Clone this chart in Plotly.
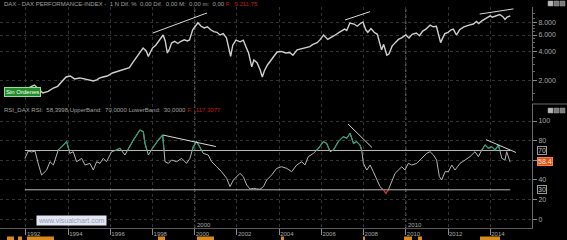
import plotly.graph_objects as go

# ---------------- data ----------------
price_year = [1991.00, 1991.20, 1991.45, 1991.70, 1991.95, 1992.20, 1992.40, 1992.60, 1992.80, 1993.05,
              1993.30, 1993.50, 1993.70, 1993.90, 1994.10, 1994.30, 1994.55, 1994.80, 1995.00, 1995.20,
              1995.35, 1995.50, 1995.65, 1995.85, 1996.10, 1996.35, 1996.60, 1996.90, 1997.10, 1997.25,
              1997.40, 1997.55, 1997.70, 1997.80, 1997.90, 1998.00, 1998.15, 1998.25, 1998.40, 1998.50,
              1998.60, 1998.70, 1998.80, 1998.90, 1999.05, 1999.20, 1999.30, 1999.50, 1999.65, 1999.75,
              1999.90, 2000.05, 2000.15, 2000.30, 2000.45, 2000.60, 2000.75, 2000.90, 2001.05, 2001.20,
              2001.35, 2001.50, 2001.70, 2001.80, 2001.95, 2002.15, 2002.30, 2002.45, 2002.55, 2002.70,
              2002.80, 2002.95, 2003.10, 2003.20, 2003.30, 2003.45, 2003.65, 2003.90, 2004.10, 2004.30,
              2004.50, 2004.65, 2004.85, 2005.05, 2005.30, 2005.45, 2005.60, 2005.80, 2005.95, 2006.10,
              2006.30, 2006.45, 2006.60, 2006.90, 2007.10, 2007.20, 2007.35, 2007.55, 2007.70, 2007.85,
              2007.97, 2008.10, 2008.20, 2008.35, 2008.50, 2008.65, 2008.75, 2008.85, 2008.95, 2009.10,
              2009.20, 2009.35, 2009.50, 2009.65, 2009.80, 2010.00, 2010.15, 2010.30, 2010.50, 2010.65,
              2010.80, 2010.95, 2011.15, 2011.30, 2011.45, 2011.55, 2011.65, 2011.75, 2011.85, 2012.00,
              2012.15, 2012.25, 2012.40, 2012.55, 2012.75, 2013.00, 2013.20, 2013.35, 2013.45, 2013.60,
              2013.80, 2014.00, 2014.10, 2014.30, 2014.45, 2014.60, 2014.70, 2014.80, 2014.95]
price_value = [1430, 1610, 1680, 1620, 1580, 1730, 1815, 1650, 1500, 1560,
               1690, 1760, 1950, 2200, 2250, 2100, 2150, 2080, 2050, 2000,
               2050, 2150, 2200, 2250, 2420, 2520, 2600, 2750, 3200, 3550,
               3900, 4400, 4100, 3600, 4000, 4400, 4700, 5080, 5600, 6000,
               5200, 3900, 4300, 4950, 5150, 4900, 5100, 5350, 5200, 5330,
               6800, 7600, 8050, 7400, 7100, 7300, 6800, 6500, 6400, 6000,
               6200, 5600, 3600, 4700, 5300, 5100, 5300, 4400, 3900, 2800,
               3300, 3100, 2600, 2200, 2550, 2950, 3400, 4000, 4050, 3900,
               3950, 3700, 4200, 4300, 4450, 4550, 4800, 5000, 5400, 6000,
               5400, 5700, 5900, 6500, 6900, 6700, 8000, 7800, 7400, 7900,
               8200, 6800, 6400, 7000, 6400, 6100, 5100, 4200, 4800, 3700,
               3800, 4600, 5000, 5400, 5600, 6000, 5600, 6100, 6300, 5900,
               6600, 6900, 7600, 7300, 7400, 6000, 5000, 5600, 6200, 6400,
               6800, 6900, 6000, 6800, 7300, 7600, 7800, 8300, 7900, 8400,
               9000, 9500, 9200, 9600, 9800, 9300, 8700, 9200, 9490]

rsi_year = [1991.95, 1992.11, 1992.27, 1992.43, 1992.58, 1992.74, 1992.98, 1993.14, 1993.30, 1993.53,
            1993.69, 1993.93, 1994.08, 1994.24, 1994.40, 1994.64, 1994.80, 1995.03, 1995.19, 1995.35,
            1995.51, 1995.66, 1995.82, 1996.06, 1996.30, 1996.45, 1996.69, 1997.09, 1997.40, 1997.56,
            1997.64, 1997.80, 1998.04, 1998.27, 1998.48, 1998.59, 1998.75, 1998.90, 1999.14, 1999.38,
            1999.61, 1999.77, 1999.93, 2000.09, 2000.24, 2000.40, 2000.64, 2000.80, 2001.04, 2001.27,
            2001.51, 2001.67, 2001.83, 2001.99, 2002.14, 2002.30, 2002.46, 2002.62, 2002.78, 2002.93,
            2003.09, 2003.25, 2003.41, 2003.64, 2003.88, 2004.11, 2004.36, 2004.59, 2004.83, 2005.07,
            2005.22, 2005.38, 2005.62, 2005.86, 2006.09, 2006.25, 2006.41, 2006.57, 2006.80, 2007.04,
            2007.20, 2007.36, 2007.52, 2007.67, 2007.83, 2007.91, 2007.99, 2008.15, 2008.31, 2008.46,
            2008.62, 2008.78, 2008.94, 2009.06, 2009.17, 2009.33, 2009.49, 2009.65, 2009.81, 2009.96,
            2010.12, 2010.28, 2010.52, 2010.67, 2010.83, 2010.99, 2011.15, 2011.31, 2011.46, 2011.59,
            2011.70, 2011.86, 2012.02, 2012.18, 2012.33, 2012.57, 2012.81, 2013.04, 2013.28, 2013.44,
            2013.60, 2013.76, 2013.91, 2014.07, 2014.23, 2014.39, 2014.55, 2014.70, 2014.78, 2014.94]
rsi_value = [62.0, 69.5, 68.5, 69.5, 56.9, 45.0, 50.1, 58.6, 55.2, 70.5,
             73.9, 79.0, 67.1, 68.8, 58.6, 62.0, 55.2, 56.9, 50.1, 58.6,
             56.9, 62.0, 58.6, 68.8, 70.5, 72.2, 65.4, 80.7, 90.8, 89.1,
             77.3, 65.4, 73.9, 80.7, 85.8, 58.6, 56.9, 60.3, 58.6, 62.0,
             56.9, 62.0, 73.9, 79.0, 73.9, 67.1, 65.4, 58.6, 53.5, 48.4,
             41.7, 33.2, 40.0, 43.4, 46.7, 43.4, 34.9, 30.8, 31.5, 31.0,
             30.5, 33.2, 40.0, 45.0, 51.8, 53.5, 51.8, 48.4, 55.2, 58.6,
             55.2, 63.7, 67.1, 72.2, 79.0, 77.3, 68.8, 70.5, 79.0, 84.1,
             82.4, 87.5, 77.3, 79.0, 75.6, 70.5, 56.9, 50.1, 55.2, 48.4,
             40.0, 33.2, 29.8, 26.4, 29.8, 38.3, 46.7, 50.1, 53.5, 50.1,
             56.9, 55.2, 56.9, 60.3, 63.7, 67.1, 68.8, 65.4, 60.3, 43.4,
             40.0, 48.4, 48.4, 55.2, 50.1, 56.9, 60.3, 63.7, 68.8, 63.7,
             70.5, 75.6, 72.2, 73.9, 70.5, 75.6, 62.0, 60.3, 68.8, 58.4]

upper_band = 70.0
lower_band = 30.0
band_years = [1991.95, 2014.95]

# hand-drawn trend lines (year, value)
price_trend_year = [[1998.02, 2000.58], [2007.12, 2008.30], [2013.50, 2015.10]]
price_trend_value = [[6300, 10170], [8590, 10480], [9900, 11200]]
rsi_trend_year = [[1998.48, 2001.00], [2007.26, 2008.40], [2013.80, 2015.22]]
rsi_trend_value = [[85.8, 74.0], [97.0, 73.0], [81.0, 68.0]]

year_ticks = list(range(1992, 2015, 2))
year_labels = [str(y) for y in year_ticks]
price_ticks = [2000, 4000, 6000, 8000]
price_tick_text = ["2.000", "4.000", "6.000", "8.000"]
price_minor = [1500, 2500, 3000, 3500, 4500, 5000, 5500, 6500, 7000, 7500, 9000, 10000]
rsi_ticks = [0, 20, 40, 60, 80, 100]
rsi_tick_text = ["0", "20", "40", "", "80", "100"]   # 60 is hidden behind the value box
decade_marks = [2000, 2010]

last_price_text = "9.489,56"
last_rsi_text = "58.4"
header_text = ("DAX - DAX PERFORMANCE-INDEX -  1 N Dif. %  0,00 Dif.  0,00 M:  0,00 m:  0,00 "
               "<span style='color:#c41e1e'>F:  9.211,75</span>")
rsi_header_text = ("RSI_DAX RSI:  58,3998 UpperBand:  70,0000 LowerBand:  30,0000 "
                   "<span style='color:#c41e1e'>F:  117,3077</span>")

# ---------------- geometry helpers (pixels -> paper) ----------------
W, H = 567, 240
T, B = 7, 12
PH = H - T - B


def py(px):
    return (H - B - px) / PH


def pxx(px):
    return px / W


def clip(xs, ys, thr, above=True):
    ox, oy = [], []
    for i in range(len(xs) - 1):
        x0, y0, x1, y1 = xs[i], ys[i], xs[i + 1], ys[i + 1]
        in0 = y0 >= thr if above else y0 <= thr
        in1 = y1 >= thr if above else y1 <= thr
        if not (in0 or in1):
            continue
        if in0 and in1:
            seg = [(x0, y0), (x1, y1)]
        else:
            t = (thr - y0) / (y1 - y0)
            xc = x0 + t * (x1 - x0)
            seg = [(x0, y0), (xc, thr)] if in0 else [(xc, thr), (x1, y1)]
        if ox and ox[-1] is not None and ox[-1] == seg[0][0]:
            ox.append(seg[1][0]); oy.append(seg[1][1])
        else:
            if ox:
                ox.append(None); oy.append(None)
            ox += [seg[0][0], seg[1][0]]; oy += [seg[0][1], seg[1][1]]
    return ox, oy


fig = go.Figure()

# price
fig.add_trace(go.Scatter(x=price_year, y=price_value, mode="lines",
                         line=dict(color="#cfcfcf", width=1.4), xaxis="x", yaxis="y",
                         hoverinfo="skip"))
for xs, ys in zip(price_trend_year, price_trend_value):
    fig.add_trace(go.Scatter(x=xs, y=ys, mode="lines", line=dict(color="#d8d8d8", width=1),
                             xaxis="x", yaxis="y", hoverinfo="skip"))

# RSI bands
for b in (upper_band, lower_band):
    fig.add_trace(go.Scatter(x=band_years, y=[b, b], mode="lines",
                             line=dict(color="#b8b8b8", width=1), xaxis="x", yaxis="y2",
                             hoverinfo="skip"))
# RSI
fig.add_trace(go.Scatter(x=rsi_year, y=rsi_value, mode="lines",
                         line=dict(color="#b4b4b4", width=1), xaxis="x", yaxis="y2",
                         hoverinfo="skip"))
gx, gy = clip(rsi_year, rsi_value, upper_band, True)
fig.add_trace(go.Scatter(x=gx, y=gy, mode="lines", line=dict(color="#2e9e74", width=1.2),
                         xaxis="x", yaxis="y2", connectgaps=False, hoverinfo="skip"))
rx, ry = clip(rsi_year, rsi_value, lower_band, False)
fig.add_trace(go.Scatter(x=rx, y=ry, mode="lines", line=dict(color="#d03030", width=1.2),
                         xaxis="x", yaxis="y2", connectgaps=False, hoverinfo="skip"))
for xs, ys in zip(rsi_trend_year, rsi_trend_value):
    fig.add_trace(go.Scatter(x=xs, y=ys, mode="lines", line=dict(color="#d8d8d8", width=1),
                             xaxis="x", yaxis="y2", hoverinfo="skip"))

tick_font = dict(family="Liberation Sans", size=7, color="#a8a8a8")
x_right = 532 / W

fig.update_layout(
    width=W, height=H,
    margin=dict(l=0, r=0, t=T, b=B, pad=0),
    paper_bgcolor="#000000", plot_bgcolor="#000000",
    showlegend=False,
    font=dict(family="Liberation Sans", size=6, color="#a0a0a0"),
    xaxis=dict(domain=[0, x_right], range=[1990.77, 2015.98], anchor="y2",
               tickvals=year_ticks, ticktext=year_labels, ticks="outside", ticklen=6,
               tickcolor="#8a8a8a", tickwidth=1, ticklabelposition="outside right",
               tickfont=dict(family="Liberation Sans", size=6, color="#a8a8a8"),
               showgrid=True, gridcolor="#333333", griddash="dot", gridwidth=1,
               zeroline=False, showline=True, linecolor="#5a5a5a", linewidth=1),
    yaxis=dict(domain=[py(101), 1], type="log", range=[3.093, 4.069], anchor="x",
               side="right", tickvals=price_ticks, ticktext=price_tick_text,
               ticks="outside", ticklen=4, tickcolor="#8a8a8a", tickfont=tick_font,
               minor=dict(tickvals=price_minor, ticks="outside", ticklen=2, tickcolor="#6a6a6a",
                          showgrid=False),
               showgrid=True, gridcolor="#333333", griddash="dot",
               zeroline=False, showline=True, linecolor="#6a6a6a"),
    yaxis2=dict(domain=[0, py(104)], range=[-8.85, 117.3], anchor="x", side="right",
                tickvals=rsi_ticks, ticktext=rsi_tick_text, ticks="outside", ticklen=4,
                tickcolor="#8a8a8a", tickfont=tick_font,
                showgrid=True, gridcolor="#333333", griddash="dot",
                zeroline=False, showline=True, linecolor="#6a6a6a"),
)

# vertical decade markers
for d in decade_marks:
    fig.add_shape(type="line", xref="x", yref="paper", x0=d, x1=d, y0=0, y1=1,
                  line=dict(color="#7a7a7a", width=1, dash="dot"), layer="below")
    fig.add_annotation(x=d, xref="x", y=py(225), yref="paper", text=str(d), showarrow=False,
                       xanchor="left", yanchor="middle", xshift=0,
                       font=dict(family="Liberation Sans", size=6, color="#a8a8a8"))

# separator between panels in the right column
fig.add_shape(type="line", xref="paper", yref="paper", x0=x_right, x1=1, y0=py(104), y1=py(104),
              line=dict(color="#6a6a6a", width=1))

# headers
fig.add_annotation(x=pxx(2), y=py(3.5), xref="paper", yref="paper", text=header_text,
                   showarrow=False, xanchor="left", yanchor="middle",
                   font=dict(family="Liberation Sans", size=6, color="#a0a0a0"))
fig.add_annotation(x=pxx(2), y=py(110), xref="paper", yref="paper", text=rsi_header_text,
                   showarrow=False, xanchor="left", yanchor="middle",
                   font=dict(family="Liberation Sans", size=6, color="#a0a0a0"))

# green order label
fig.add_annotation(x=pxx(4), y=py(92.5), xref="paper", yref="paper", text="Sin Ordenes",
                   showarrow=False, xanchor="left", yanchor="middle", bgcolor="#238a2a",
                   bordercolor="#8fe08f", borderwidth=1, borderpad=1,
                   font=dict(family="Liberation Sans", size=6, color="#ffffff"))
# watermark
fig.add_annotation(x=pxx(36), y=py(220.5), xref="paper", yref="paper", text="www.visualchart.com",
                   showarrow=False, xanchor="left", yanchor="middle", bgcolor="#e4e7f0",
                   borderpad=1, font=dict(family="Liberation Sans", size=7, color="#8e9bc0"))

# right axis value boxes
fig.add_annotation(x=pxx(537), y=price_value[-1], xref="paper", yref="y", text=last_price_text,
                   showarrow=False, xanchor="left", yanchor="middle", bgcolor="#d9531e",
                   bordercolor="#ff8040", borderwidth=1, borderpad=0,
                   font=dict(family="Liberation Sans", size=7, color="#ffe2cc"))
fig.add_annotation(x=pxx(537), y=rsi_value[-1], xref="paper", yref="y2", text=last_rsi_text,
                   showarrow=False, xanchor="left", yanchor="middle", bgcolor="#d9531e",
                   bordercolor="#ff8040", borderwidth=1, borderpad=0,
                   font=dict(family="Liberation Sans", size=7, color="#ffe2cc"))
for b in (upper_band, lower_band):
    fig.add_annotation(x=pxx(537), y=b, xref="paper", yref="y2", text=str(int(b)),
                       showarrow=False, xanchor="left", yanchor="middle", bgcolor="#000000",
                       bordercolor="#9a9a9a", borderwidth=1, borderpad=0,
                       font=dict(family="Liberation Sans", size=7, color="#c0c0c0"))

# window buttons
for ytop in (1, 108):
    for i, x0 in enumerate((548, 554, 560)):
        fig.add_shape(type="rect", xref="paper", yref="paper", x0=pxx(x0), x1=pxx(x0 + 5),
                      y0=py(ytop + 5), y1=py(ytop), line=dict(color="#9a9a9a", width=0.5),
                      fillcolor="#b8b8b8" if i == 0 else "#7a7a7a")

# bottom event strip
strip = [(7, 14), (18, 22), (27, 54), (158, 165), (197, 214), (281, 284), (363, 365),
         (404, 412), (418, 422), (480, 500)]
for a, b in strip:
    fig.add_shape(type="rect", xref="paper", yref="paper", x0=pxx(a), x1=pxx(b),
                  y0=py(240), y1=py(236.5), line=dict(width=0), fillcolor="#d98a1c")

fig.write_html("out.html")
